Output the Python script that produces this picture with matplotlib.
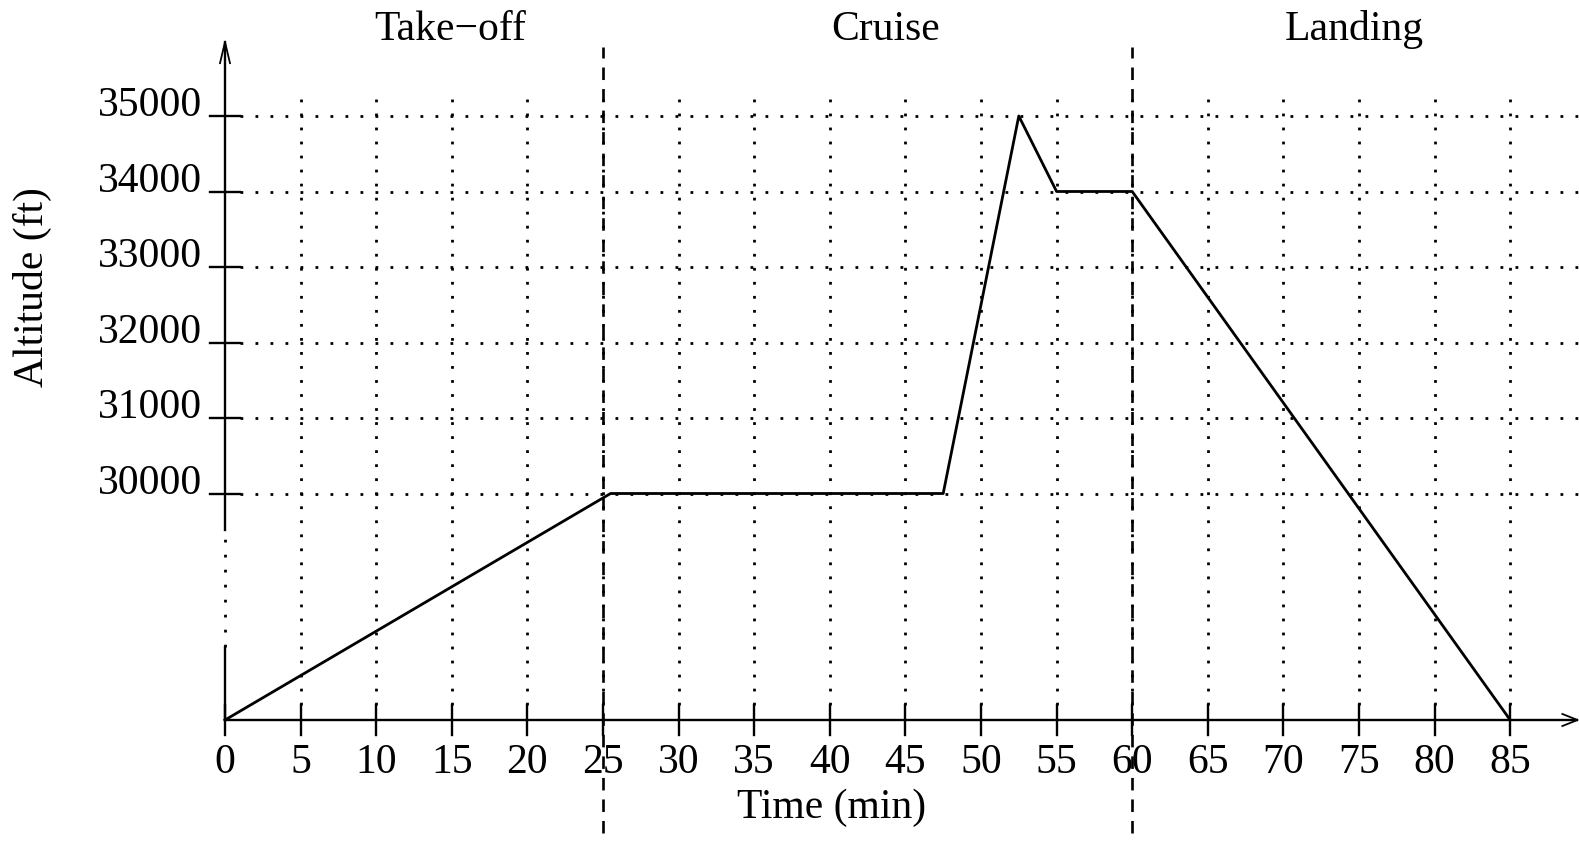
import matplotlib
matplotlib.use("Agg")
import matplotlib.pyplot as plt

plt.rcParams['font.family'] = ['Liberation Serif', 'DejaVu Serif']
plt.rcParams['lines.scale_dashes'] = False

# flight profile
time_min = [0, 25.5, 47.5, 52.5, 55, 60, 85]
altitude_ft = [0, 30000, 30000, 35000, 34000, 34000, 0]

x_ticks = list(range(0, 90, 5))
y_ticks = [30000, 31000, 32000, 33000, 34000, 35000]

phase_bounds = [25, 60]
phase_names = ['Take\u2212off', 'Cruise', 'Landing']
phase_centres = [14.9, 43.7, 74.7]

# broken axis: 0 sits 3 units below 30000
def disp(alt):
    return 0.0 if alt == 0 else (alt - 27000) / 1000.0


fig = plt.figure(figsize=(15.79, 8.43), dpi=100)
ax = fig.add_axes([0, 0, 1, 1])
ax.set_xlim(-225 / 15.12, (1579 - 225) / 15.12)
ax.set_ylim(-(843 - 720) / 75.5, 720 / 75.5)
ax.axis('off')

fs = 30
x_right = ax.get_xlim()[1]

# dotted grid
for t in x_ticks[1:]:
    ax.plot([t, t], [0.2, 8.37], color='black', lw=2.0,
            linestyle=(0, (2.0, 8.1)))
for a in y_ticks:
    d = disp(a)
    ax.plot([1.0, x_right], [d, d], color='black', lw=2.0,
            linestyle=(0, (2.0, 8.8)))

# phase separators
for b in phase_bounds:
    ax.plot([b, b], [-1.5, 8.91], color='black', lw=1.9,
            linestyle=(0, (9.0, 6.5)))

# axes with break
ax.plot([0, 89.45], [0, 0], color='black', lw=1.7)
ax.plot([0, 0], [0, 0.97], color='black', lw=1.7)
ax.plot([0, 0], [0.97, 2.52], color='black', lw=2.0,
        linestyle=(0, (2.0, 8.8)))
ax.plot([0, 0], [2.52, 8.98], color='black', lw=1.7)
ax.plot([-0.33, 0, 0.33], [8.70, 8.98, 8.70], color='black', lw=1.3)
ax.plot([88.45, 89.45, 88.45], [0.08, 0, -0.08], color='black', lw=1.3)

# ticks and labels
for t in x_ticks:
    ax.plot([t, t], [-0.2, 0.2], color='black', lw=1.7)
    ax.text(t, -0.70, str(t), ha='center', va='baseline', fontsize=fs)
for a in y_ticks:
    d = disp(a)
    ax.plot([-1, 1], [d, d], color='black', lw=1.7)
    ax.text(-1.5, d, str(a), ha='right', va='baseline', fontsize=fs)

ax.plot(time_min, [disp(a) for a in altitude_ft], color='black', lw=2.0)

for name, c in zip(phase_names, phase_centres):
    ax.text(c, 9.01, name, ha='center', va='baseline', fontsize=fs)

ax.text(40.1, -1.30, 'Time (min)', ha='center', va='baseline', fontsize=fs)
ax.text(-12.7, 5.73, 'Altitude (ft)', ha='center', va='center',
        rotation=90, fontsize=fs)

fig.savefig('out.png', dpi=100)
